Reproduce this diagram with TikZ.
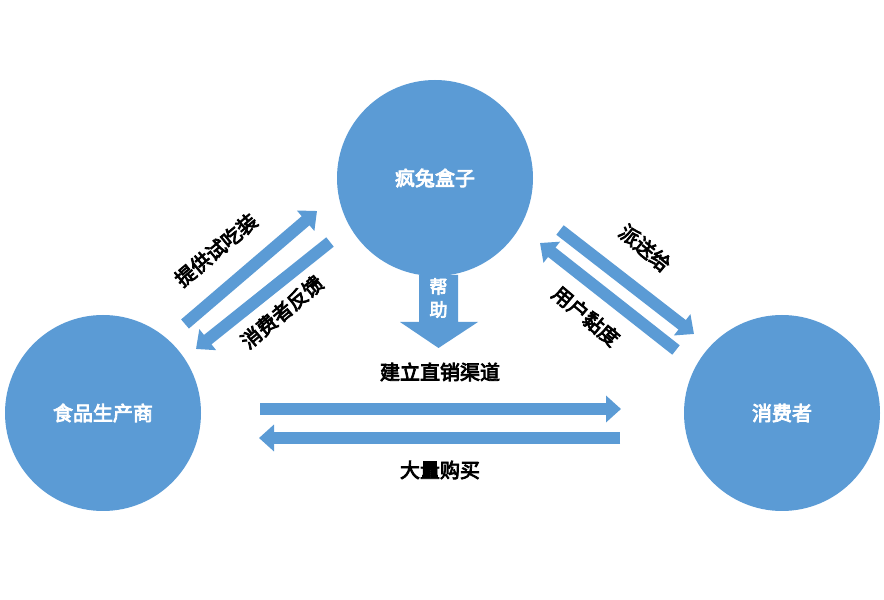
\documentclass[tikz,border=0pt]{standalone}
\usepackage{fontspec}
\newfontfamily\cjk{Noto Sans CJK SC}[AutoFakeBold=4]
\usetikzlibrary{arrows.meta}
\definecolor{bl}{HTML}{5B9BD5}
\tikzset{
 circ/.style={circle,fill=bl,minimum size=196pt,inner sep=0pt,text=white,font=\cjk\bfseries\fontsize{20}{20}\selectfont},
 flow/.style={draw=bl,line width=12pt,-{Triangle[width=26pt,length=15pt]}},
 lbl/.style={font=\cjk\bfseries\fontsize{20}{20}\selectfont,text=black,inner sep=0pt}
}
\begin{document}
\begin{tikzpicture}[x=1pt,y=1pt]
\useasboundingbox (0,0) rectangle (884,600);
\node[circ] (box) at (435,422) {疯兔盒子};
\node[circ] (prod) at (103,187) {食品生产商};
\node[circ] (cons) at (782,187) {消费者};
% horizontal
\coordinate (h1s) at (260,191); \coordinate (h1e) at (621,191);
\coordinate (h2s) at (620,162); \coordinate (h2e) at (259,162);
\draw[flow] (h1s) -- (h1e);
\draw[flow] (h2s) -- (h2e);
% left diagonals
\coordinate (l1s) at (185,276); \coordinate (l1e) at (317,389);
\coordinate (l2s) at (330,358); \coordinate (l2e) at (196,251);
\draw[flow] (l1s) -- (l1e);
\draw[flow] (l2s) -- (l2e);
% right diagonals
\coordinate (r1s) at (560,370); \coordinate (r1e) at (694,266);
\coordinate (r2s) at (676,250); \coordinate (r2e) at (540,357);
\draw[flow] (r1s) -- (r1e);
\draw[flow] (r2s) -- (r2e);
% down arrow
\fill[bl] (419,325) -- (458,325) -- (458,278) -- (478,278) -- (438.5,252) -- (400,278) -- (419,278) -- cycle;
\node[lbl,text=white,align=center,font=\cjk\bfseries\fontsize{18}{23}\selectfont] (help) at (438.5,302) {帮\\助};
\node[lbl] (t1) at (440,228) {建立直销渠道};
\node[lbl] (t2) at (440,130) {大量购买};
\node[lbl,rotate=40] (t3) at (216,350) {提供试吃装};
\node[lbl,rotate=40] (t4) at (282,288) {消费者反馈};
\node[lbl,rotate=-40] (t5) at (645,352) {派送给};
\node[lbl,rotate=-40] (t6) at (586,284) {用户黏度};
\end{tikzpicture}
\end{document}
